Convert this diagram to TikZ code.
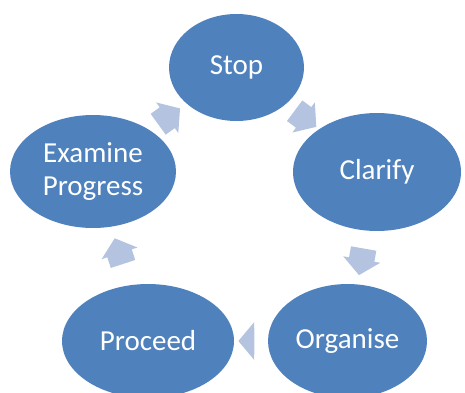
\documentclass[tikz,border=0pt]{standalone}
\usepackage{fontspec}
\setmainfont{Carlito}
\usetikzlibrary{shapes.geometric,shapes.arrows}
\definecolor{stageblue}{HTML}{4F81BD}
\definecolor{arrowblue}{HTML}{B4C3DF}
\tikzset{
	stage/.style={ellipse, fill=stageblue, text=white, inner sep=0pt, align=center, font=\fontsize{16.5}{19}\selectfont},
	cyclearrow/.style={single arrow, fill=arrowblue, inner xsep=0pt, inner ysep=0.25cm, minimum height=0.54cm, single arrow head extend=0.12cm, single arrow tip angle=100, sloped, allow upside down}
}
\begin{document}
\begin{tikzpicture}[x=0.02cm, y=-0.02cm]
	\useasboundingbox (0,0) rectangle (465,392);
	\clip (0,0) rectangle (465,392);
	\node[stage, minimum width=2.7cm, minimum height=2.14cm] (stop) at (236.5,67.5) {Stop};
	\node[stage, minimum width=3.36cm, minimum height=2.36cm] (clarify) at (377,172) {Clarify};
	\node[stage, minimum width=3.18cm, minimum height=2.28cm] (organise) at (347.5,341) {Organise};
	\node[stage, minimum width=3.44cm, minimum height=2.28cm] (proceed) at (148,341) {Proceed};
	\node[stage, minimum width=3.32cm, minimum height=2.26cm] (examine) at (93,171.5) {Examine\\Progress};
	\path (stop.center) -- (clarify.center) node[cyclearrow, pos=0.46] (a1) {};
	\path (clarify.center) -- (organise.center) node[cyclearrow, midway] (a2) {};
	\path (organise.center) -- (proceed.center) node[cyclearrow, pos=0.48, minimum height=0.32cm] (a3) {};
	\path (proceed.center) -- (examine.center) node[cyclearrow, midway] (a4) {};
	\path (examine.center) -- (stop.center) node[cyclearrow, midway] (a5) {};
\end{tikzpicture}
\end{document}
